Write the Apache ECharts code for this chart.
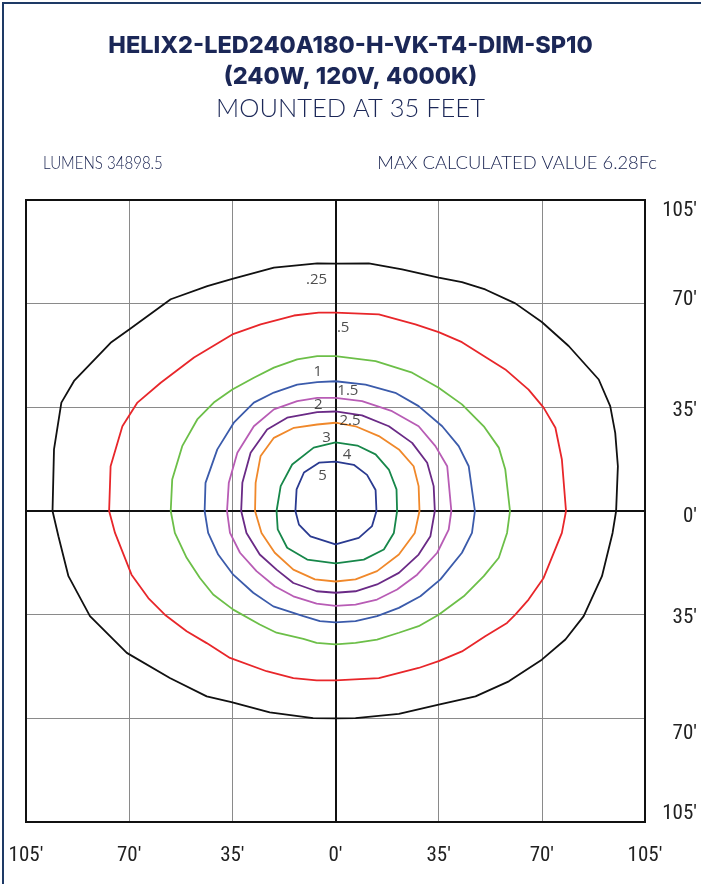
<!DOCTYPE html>
<html>
<head>
<meta charset="utf-8">
<script src="https://cdn.jsdelivr.net/npm/echarts@6/dist/echarts.min.js"></script>
<style>
html,body{margin:0;padding:0;background:#fff;}
#chart{width:701px;height:884px;}
</style>
</head>
<body>
<div id="chart"></div>
<script>
// ---- data (feet) ----
const titleLines = ['HELIX2-LED240A180-H-VK-T4-DIM-SP10', '(240W, 120V, 4000K)', 'MOUNTED AT 35 FEET'];
const lumensText = 'LUMENS 34898.5';
const maxText = 'MAX CALCULATED VALUE 6.28Fc';
const tickValues = [-105, -70, -35, 0, 35, 70, 105];
const tickLabels = ['105′', '70′', '35′', '0′', '35′', '70′', '105′'];
const contourLevels = ['.25', '.5', '1', '1.5', '2', '2.5', '3', '4', '5'];

const c025 = [[0,83.5],[-6.2,83.6],[-20.9,82.2],[-35,78.4],[-43.5,75.9],[-55.9,71.5],[-70,61.3],[-76.3,56.8],[-88.7,43.9],[-93,36.6],[-95.5,20.8],[-96,0],[-94,-8.5],[-90.6,-22],[-83.3,-35.5],[-70.8,-47.9],[-56.2,-56.4],[-43.7,-62.6],[-35.3,-64.5],[-22.3,-68],[-7.6,-69.9],[0,-70],[6.8,-69.9],[21.5,-68.5],[35,-65.4],[47.5,-62.6],[58.8,-57.5],[70,-50.2],[78,-43.4],[84.2,-35.5],[90.4,-22],[94,-7.4],[95.2,0],[95.8,15.1],[94.9,26.4],[93.2,35.4],[89.3,44.4],[79.1,55.7],[70,63.8],[61,70.1],[50.8,74.8],[42.9,77.3],[35,78.8],[22.6,81.6],[11.3,83.6],[0,83.5]];
const c05 = [[0,67],[-5.7,67],[-14.1,66],[-25.4,63],[-35,59.6],[-48,51.8],[-59.3,43.3],[-67.2,36.6],[-72.3,28.6],[-76.3,15.1],[-76.8,0],[-74.8,-7.4],[-69.2,-21.5],[-63.5,-29.4],[-57.9,-35],[-50.5,-40.6],[-43.7,-44.6],[-35.8,-49.6],[-23.4,-54.1],[-14.3,-56.4],[-6.4,-57.2],[0,-57.2],[14.7,-56.4],[28.2,-53],[35,-50.7],[42.9,-47.4],[50.8,-42.3],[58.2,-37.8],[61,-35],[65.5,-29.9],[70.6,-22.6],[76.8,-7.4],[78.2,0],[76.8,17.4],[74.6,28.1],[70.6,34.9],[65.5,41],[57.6,47.8],[42.9,57],[35,60.4],[27.1,63],[14.7,66.4],[0,67]];
const c1 = [[0,52.3],[-6.2,52.3],[-13,51.2],[-20.9,48.4],[-27.7,45],[-35,41],[-41.3,36.6],[-46.9,30.9],[-52,21.9],[-55.4,10.6],[-55.9,0],[-54.5,-7.4],[-50.5,-15.8],[-46,-22.6],[-41.5,-28.2],[-34.7,-33.3],[-25.7,-38.3],[-20,-41.1],[-10.9,-43.2],[-6.4,-44.5],[0,-45],[6.8,-44.5],[14.1,-43.4],[21.5,-41.1],[28.2,-38.9],[35,-35],[43.5,-28.8],[50.3,-22],[55.4,-15.8],[58.2,-7.4],[59.2,0],[57.6,14],[55.4,21.4],[50.3,28.6],[42.9,36],[35,41.6],[26,46.7],[13.6,50.6],[0,52.3]];
const c15 = [[0,43.8],[-6.2,43.5],[-13,42.7],[-20.9,40],[-27.7,36.6],[-34.5,29.8],[-40.1,20.8],[-44.1,9.5],[-44.4,0],[-43.2,-7.4],[-39.8,-14.7],[-34.7,-21.5],[-27.9,-27.6],[-21.1,-32.2],[-10.9,-35.5],[-5.3,-37.2],[0,-37.6],[6.8,-37.2],[14.1,-35.5],[21.5,-32.7],[28.8,-28.8],[35.6,-23.1],[42.9,-14.1],[46.3,-7.4],[47.3,0],[45.2,15.1],[41.8,21.9],[36.2,28.6],[28.2,35.4],[20.3,39.9],[10.2,42.7],[0,43.8]];
const c2 = [[0,38.2],[-6.2,38.2],[-13,37.1],[-20.9,34.3],[-27.7,28.6],[-33.3,19.7],[-36.2,9.5],[-36.8,0],[-35.8,-7.4],[-32.4,-14.1],[-26.8,-20.3],[-20.6,-25.4],[-14.3,-28.8],[-6.4,-31.3],[0,-32],[6.8,-31.6],[14.1,-29.9],[20.9,-26.5],[27.7,-21.5],[34.5,-14.1],[38.4,-6.3],[39.3,0],[37.9,15.1],[33.9,21.9],[28.2,28.6],[19.2,33.7],[9,37.1],[0,38.2]];
const c25 = [[0,33.6],[-6.2,33.4],[-16.4,31.5],[-23.2,27.5],[-28.8,19.7],[-31.6,9.5],[-32,0],[-30.2,-7.4],[-25.7,-14.7],[-20,-19.8],[-14.3,-24.3],[-6.4,-27.1],[0,-27.6],[6.8,-27.1],[14.1,-24.8],[21.5,-20.9],[28.2,-14.7],[32.2,-8.5],[33.7,0],[33.3,8.4],[31.1,16.3],[26,23],[18.1,28.6],[9,32.3],[0,33.6]];
const c3 = [[0,29.8],[-6.2,29.2],[-14.1,28.1],[-20.9,24.7],[-25.4,18.6],[-27.1,9.5],[-27.3,0],[-25.1,-7.4],[-20.6,-14.1],[-14.3,-19.8],[-7,-23.1],[0,-23.8],[6.8,-23.1],[14.1,-20.3],[21.5,-14.7],[26.9,-7.4],[28.5,0],[28.2,8.4],[26.5,15.1],[21.5,20.8],[14.7,25.3],[6.8,28.6],[0,29.8]];
const c4 = [[0,23.2],[-7.4,21.4],[-14.7,15.7],[-18.6,8.4],[-20,0],[-19.6,-6.2],[-16.4,-12.4],[-9.6,-16.4],[0,-17.7],[9.6,-16.4],[16.4,-13],[19.8,-7.4],[20.9,0],[20.7,7.3],[18.1,14],[13.6,19.1],[7.4,22.1],[0,23.2]];
const c5 = [[0,16.7],[-5.6,16.3],[-10.7,13],[-13.2,7.3],[-13.6,0],[-12.4,-4.6],[-8.5,-8.6],[0,-11.3],[7.9,-9.1],[12.4,-5.1],[13.9,0],[13.6,7.1],[10.7,12.2],[6.2,15.6],[0,16.7]];
const contours = [c025, c05, c1, c15, c2, c25, c3, c4, c5];
const labelAnchors = [[-6.4,78],[2.6,62],[-6,47],[4.2,40.5],[-5.8,36],[4.9,30.5],[-3,24.7],[3.9,19],[-4.4,12]];

// ---- styles ----
const contourColors = ['#111111','#e8262a','#6cbf48','#3b5bab','#b85cb5','#6a2a86','#f0882a','#17874a','#2a3a90'];
const navy = '#1b2757';
const tickFont = 'Liberation Sans Narrow, Roboto Condensed, Roboto, sans-serif';
const tickSize = 21;

const chart = echarts.init(document.getElementById('chart'), null, {renderer:'canvas'});

const series = contours.map((pts, i) => ({
  type: 'line', name: contourLevels[i], data: pts, showSymbol: false, symbol: 'none',
  smooth: false, silent: true, z: 5,
  lineStyle: { color: contourColors[i], width: 1.8 }
}));
series.push({
  type: 'scatter', silent: true, z: 6, symbolSize: 0,
  data: labelAnchors.map((p, i) => ({ value: p, name: contourLevels[i] })),
  label: { show: true, position: 'inside', formatter: p => p.name,
    color: '#222', fontSize: 15, fontFamily: 'Open Sans' },
  markLine: {
    silent: true, symbol: 'none', animation: false,
    label: { show: false },
    lineStyle: { color: '#111', width: 2, type: 'solid' },
    data: [{ xAxis: 0 }, { yAxis: 0 }]
  }
});

function yLab(key) {
  const pads = { t105: [22,0,0,0], t70: [0,0,8,0], t35: [6,0,0,0], z: [12,0,0,0], b35: [6,0,0,0], b70: [30,0,0,0], b105: [0,0,16,0] };
  return { fontFamily: tickFont, fontSize: tickSize, color: '#222', padding: pads[key] };
}

const option = {
  animation: false,
  backgroundColor: '#fff',
  title: [
    { text: titleLines[0], left: 'center', top: 29,
      textStyle: { fontFamily: 'Inter', fontWeight: 800, fontSize: 23.5, color: navy } },
    { text: titleLines[1], left: 'center', top: 60,
      textStyle: { fontFamily: 'Inter', fontWeight: 800, fontSize: 23.5, color: navy } },
    { text: titleLines[2], left: 'center', top: 91,
      textStyle: { fontFamily: 'Lato', fontWeight: 300, fontSize: 25.5, color: navy } }
  ],
  graphic: [
    { type: 'rect', shape: { x: 3, y: 3, width: 800, height: 1000 },
      style: { fill: 'none', stroke: '#1e3a66', lineWidth: 2 }, silent: true, z: 100 },
    { type: 'text', x: 43, y: 163, scaleX: 0.86, silent: true,
      style: { text: lumensText, font: '300 17.5px Lato', fill: '#17214f', align: 'left', verticalAlign: 'middle' } },
    { type: 'text', x: 657, y: 163, scaleX: 1.05, silent: true,
      style: { text: maxText, font: '300 17.5px Lato', fill: '#17214f', align: 'right', verticalAlign: 'middle' } }
  ],
  grid: { left: 26, right: 56, top: 200, bottom: 62, show: true,
    borderColor: '#111', borderWidth: 2, backgroundColor: 'transparent', z: 10 },
  xAxis: {
    type: 'value', min: -105, max: 105, interval: 35,
    axisLine: { show: false }, axisTick: { show: false },
    splitLine: { show: true, showMinLine: false, showMaxLine: false, lineStyle: { color: '#8a8a8a', width: 1 } },
    axisLabel: { show: true, margin: 23, fontFamily: tickFont, fontSize: tickSize, color: '#222',
      showMinLabel: true, showMaxLabel: true,
      formatter: v => tickLabels[tickValues.indexOf(v)] }
  },
  yAxis: {
    type: 'value', position: 'right', min: -105, max: 105, interval: 35,
    axisLine: { show: false }, axisTick: { show: false },
    splitLine: { show: true, showMinLine: false, showMaxLine: false, lineStyle: { color: '#8a8a8a', width: 1 } },
    axisLabel: { show: true, align: 'right', margin: 52, fontFamily: tickFont, fontSize: tickSize, color: '#222',
      showMinLabel: true, showMaxLabel: true,
      formatter: v => {
        const i = tickValues.indexOf(v);
        const key = ['b105','b70','b35','z','t35','t70','t105'][i];
        return '{' + key + '|' + tickLabels[i] + '}';
      },
      rich: {
        t105: yLab('t105'), t70: yLab('t70'), t35: yLab('t35'), z: yLab('z'),
        b35: yLab('b35'), b70: yLab('b70'), b105: yLab('b105')
      }
    }
  },
  series: series
};
chart.setOption(option);
</script>
</body>
</html>
